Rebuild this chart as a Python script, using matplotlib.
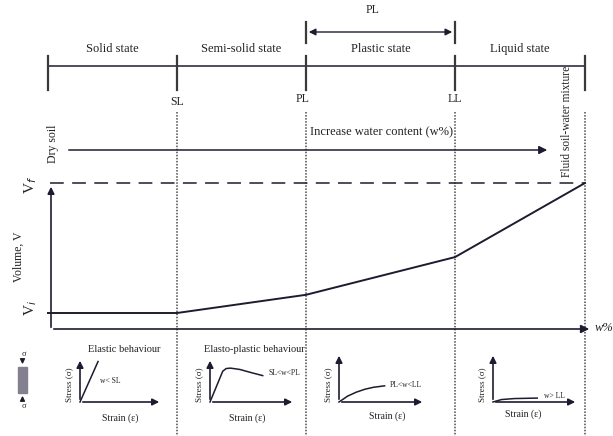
import numpy as np
import matplotlib.pyplot as plt

# water content positions of the limits (diagram units) and state names
limit_names = ['', 'SL', 'PL', 'LL', '']
limit_w = [48, 177, 306, 455, 585]
state_names = ['Solid state', 'Semi-solid state', 'Plastic state', 'Liquid state']

# volume curve (0 = Vi, 1 = Vf) at each limit
volume_frac = [0.0, 0.0, 0.14, 0.43, 1.0]
Vi_y, Vf_y = 313, 183

# stress-strain insets: (title, label, strain, stress)
inset_titles = ['Elastic behaviour', 'Elasto-plastic behaviour', '', '']
inset_labels = ['w< SL', 'SL<w<PL', 'PL<w<LL', 'w> LL']
inset_strain = [
    [0.0, 0.22],
    [0.0, 0.15, 0.19, 0.24, 0.35, 0.5, 0.62],
    [0.0, 0.1, 0.2, 0.3, 0.4, 0.53],
    [0.0, 0.1, 0.25, 0.52],
]
inset_stress = [
    [0.0, 0.92],
    [0.0, 0.7, 0.76, 0.77, 0.74, 0.66, 0.6],
    [0.0, 0.12, 0.2, 0.26, 0.3, 0.33],
    [0.0, 0.05, 0.07, 0.08],
]

W, H = 613, 436
ink = '#1c1c30'
txt = '#222222'
plt.rcParams['font.family'] = ['Liberation Serif', 'DejaVu Serif']

fig = plt.figure(figsize=(W / 100, H / 100), dpi=100)
ax = fig.add_axes([0, 0, 1, 1])
ax.set_xlim(0, W)
ax.set_ylim(H, 0)
ax.axis('off')

# top state line
ax.plot([limit_w[0], limit_w[-1]], [66, 66], color=ink, lw=1.1)
for w in limit_w:
    ax.plot([w, w], [56, 90], color='#3a3a3a', lw=1.6)
for i, name in enumerate(state_names):
    xm = (limit_w[i] + limit_w[i + 1]) / 2
    ax.text(xm, 49, name, ha='center', va='center', fontsize=9, color=txt)
for w, name in zip(limit_w, limit_names):
    if name:
        yl = 102 if name == 'SL' else 99
        ax.text(w - (3 if name == 'PL' else 0), yl, name, ha='center', va='center',
                fontsize=8.5, color=txt)

# plasticity index arrow
ax.annotate('', xy=(limit_w[2], 32), xytext=(limit_w[3], 32),
            arrowprops=dict(arrowstyle='<|-|>', color=ink, lw=1, mutation_scale=10))
for w in limit_w[2:4]:
    ax.plot([w, w], [22, 43], color='#3a3a3a', lw=1.6)
ax.text(373, 10, 'PL', ha='center', va='center', fontsize=8.5, color=txt)

# dotted vertical limit lines
for w in limit_w[1:]:
    ax.plot([w, w], [112, H], color='#4a4a4a', lw=1.1, ls=(0, (1, 1)))

ax.text(567, 66, 'Fluid soil-water mixture', rotation=90, ha='center', va='top',
        fontsize=8.3, color=txt)
ax.text(53, 144, 'Dry soil', rotation=90, ha='center', va='center', fontsize=8.5, color=txt)

# increase water content arrow
ax.annotate('', xy=(550, 150), xytext=(66, 150),
            arrowprops=dict(arrowstyle='-|>', color=ink, lw=1.1, mutation_scale=12))
ax.text(381, 132, 'Increase water content (w%)', ha='center', va='center', fontsize=9,
        color=txt)

# Vf dashed line
ax.plot([50, limit_w[-1]], [Vf_y, Vf_y], color=ink, lw=1.1, ls=(0, (9, 5.5)))
ax.text(31, 185, 'V$_f$', rotation=90, ha='center', va='center', fontsize=11, color=txt)
ax.text(31, 308, 'V$_i$', rotation=90, ha='center', va='center', fontsize=11, color=txt)
ax.text(19, 257, 'Volume, V', rotation=90, ha='center', va='center', fontsize=8.5, color=txt)

# volume axis and water content axis
ax.annotate('', xy=(51, 184), xytext=(51, 330),
            arrowprops=dict(arrowstyle='-|>', color=ink, lw=1.2, mutation_scale=10))
ax.annotate('', xy=(592, 329), xytext=(51, 329),
            arrowprops=dict(arrowstyle='-|>', color=ink, lw=1.2, mutation_scale=12))
ax.text(604, 328, 'w%', ha='center', va='center', fontsize=9, color=txt, style='italic')

vol_y = [Vi_y - v * (Vi_y - Vf_y) for v in volume_frac]
ax.plot(limit_w, vol_y, color=ink, lw=1.4)

# small sample icon
ax.add_patch(plt.Rectangle((18, 367), 9, 26, color='#84808f'))
ax.annotate('', xy=(22.5, 367), xytext=(22.5, 357),
            arrowprops=dict(arrowstyle='-|>', color=ink, lw=1, mutation_scale=7))
ax.annotate('', xy=(22.5, 393), xytext=(22.5, 403),
            arrowprops=dict(arrowstyle='-|>', color=ink, lw=1, mutation_scale=7))
ax.text(24, 354, 'σ', fontsize=6, ha='center', va='center', color=txt)
ax.text(24, 406, 'σ', fontsize=6, ha='center', va='center', color=txt)

# stress-strain insets: origin and size in pixels
inset_origin = [(80, 402), (210, 402), (339, 402), (493, 402)]
inset_size = [(82, 44), (85, 44), (86, 49), (85, 49)]
label_pos = [(110, 381), (284, 373), (406, 385), (554, 396)]
strain_pos = [(120, 418), (247, 418), (387, 416), (523, 414)]
for k in range(4):
    x0, y0 = inset_origin[k]
    sw, sh = inset_size[k]
    ax.annotate('', xy=(x0, y0 - sh), xytext=(x0, y0),
                arrowprops=dict(arrowstyle='-|>', color=ink, lw=1.2, mutation_scale=10))
    ax.annotate('', xy=(x0 + sw, y0), xytext=(x0, y0),
                arrowprops=dict(arrowstyle='-|>', color=ink, lw=1.2, mutation_scale=10))
    xs = x0 + np.array(inset_strain[k]) * sw
    ys = y0 - np.array(inset_stress[k]) * sh
    ax.plot(xs, ys, color=ink, lw=1.1)
    ax.text(x0 - 11, y0 - 17, 'Stress (σ)', rotation=90, ha='center', va='center',
            fontsize=6.5, color=txt)
    ax.text(*strain_pos[k], 'Strain (ε)', ha='center', va='center', fontsize=7, color=txt)
    ax.text(*label_pos[k], inset_labels[k], ha='center', va='center', fontsize=5.5, color=txt)
    if inset_titles[k]:
        ax.text(x0 + 44, 349, inset_titles[k], ha='center', va='center',
                fontsize=7.5, color=txt)

fig.savefig('out.png', dpi=100)
